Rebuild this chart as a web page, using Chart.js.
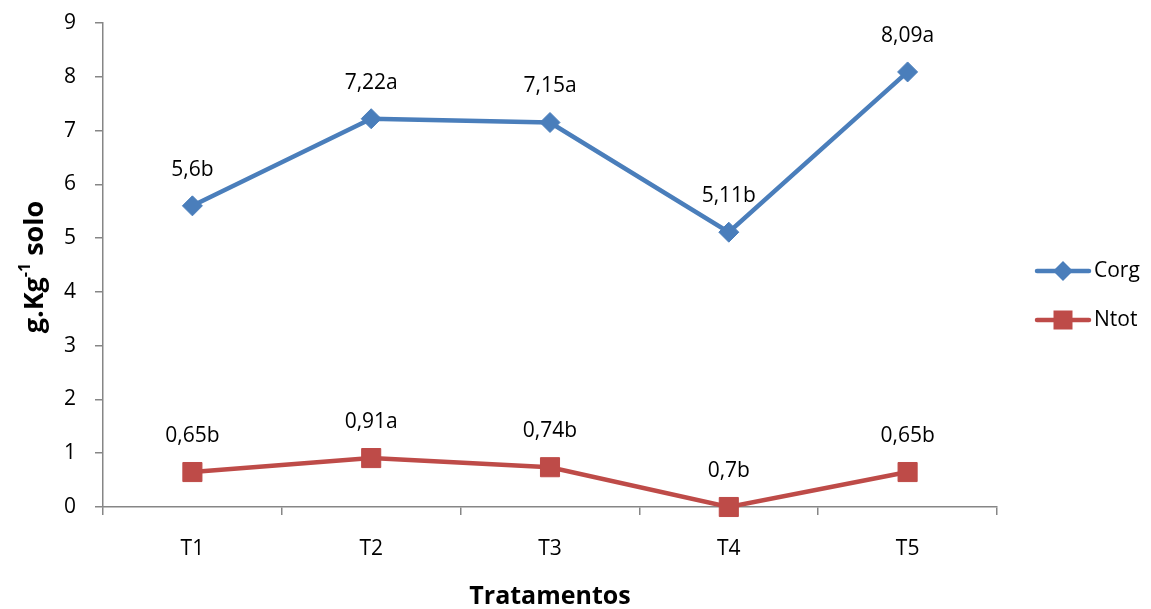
<!DOCTYPE html>
<html>
<head>
<meta charset="utf-8">
<script src="https://cdn.jsdelivr.net/npm/chart.js@4.4.1/dist/chart.umd.min.js"></script>
<style>
  html, body { margin: 0; padding: 0; background: #ffffff; }
  #wrap { width: 1151px; height: 609px; }
</style>
</head>
<body>
<div id="wrap"><canvas id="c" width="1151" height="609"></canvas></div>
<script>
const categories = ['T1', 'T2', 'T3', 'T4', 'T5'];
const corgValues = [5.6, 7.22, 7.15, 5.11, 8.09];
const ntotValues = [0.65, 0.91, 0.74, 0, 0.65];
const corgLabels = ['5,6b', '7,22a', '7,15a', '5,11b', '8,09a'];
const ntotLabels = ['0,65b', '0,91a', '0,74b', '0,7b', '0,65b'];
const seriesNames = ['Corg', 'Ntot'];
const xTitle = 'Tratamentos';
const yTitleParts = ['g.Kg', '-1', ' solo'];

const FONT = "'Open Sans', 'DejaVu Sans', sans-serif";
const BLUE = '#4A7EBB';
const RED = '#BE4B48';
const AXIS = '#868686';

const pointLabels = [corgLabels, ntotLabels];

const dataLabelPlugin = {
  id: 'dataLabels',
  afterDatasetsDraw(chart) {
    const ctx = chart.ctx;
    ctx.save();
    ctx.font = '21px ' + FONT;
    ctx.fillStyle = '#000';
    ctx.textAlign = 'center';
    ctx.textBaseline = 'middle';
    chart.data.datasets.forEach((ds, i) => {
      const meta = chart.getDatasetMeta(i);
      meta.data.forEach((el, j) => {
        ctx.fillText(pointLabels[i][j], el.x, el.y - 36);
      });
    });
    ctx.restore();
  }
};

const yTitlePlugin = {
  id: 'yTitle',
  afterDraw(chart) {
    const ctx = chart.ctx;
    const ca = chart.chartArea;
    const cy = (ca.top + ca.bottom) / 2 + 2;
    ctx.save();
    ctx.translate(35, cy);
    ctx.rotate(-Math.PI / 2);
    ctx.fillStyle = '#000';
    ctx.textBaseline = 'middle';
    ctx.textAlign = 'left';
    const big = 'bold 27px ' + FONT;
    const small = 'bold 16px ' + FONT;
    ctx.font = big; const w0 = ctx.measureText(yTitleParts[0]).width;
    ctx.font = small; const w1 = ctx.measureText(yTitleParts[1]).width;
    ctx.font = big; const w2 = ctx.measureText(yTitleParts[2]).width;
    let x = -(w0 + w1 + w2) / 2;
    ctx.font = big; ctx.fillText(yTitleParts[0], x, 0); x += w0;
    ctx.font = small; ctx.fillText(yTitleParts[1], x, -10); x += w1;
    ctx.font = big; ctx.fillText(yTitleParts[2], x, 0);
    ctx.restore();
  }
};

const legendPlugin = {
  id: 'customLegend',
  afterDraw(chart) {
    const ctx = chart.ctx;
    ctx.save();
    chart.data.datasets.forEach((ds, i) => {
      const y = 271 + i * 49;
      ctx.strokeStyle = ds.borderColor;
      ctx.lineWidth = 4.5;
      ctx.lineCap = 'round';
      ctx.beginPath();
      ctx.moveTo(1037, y);
      ctx.lineTo(1089, y);
      ctx.stroke();
      ctx.fillStyle = ds.pointBackgroundColor;
      ctx.beginPath();
      if (ds.pointStyle === 'rectRot') {
        const r = 10;
        ctx.moveTo(1063, y - r); ctx.lineTo(1063 + r, y); ctx.lineTo(1063, y + r); ctx.lineTo(1063 - r, y);
      } else {
        const h = 9.5;
        ctx.rect(1063 - h, y - h, 2 * h, 2 * h);
      }
      ctx.closePath();
      ctx.fill();
      ctx.fillStyle = '#000';
      ctx.font = '21px ' + FONT;
      ctx.textAlign = 'left';
      ctx.textBaseline = 'middle';
      ctx.fillText(ds.label, 1094, y);
    });
    ctx.restore();
  }
};

new Chart(document.getElementById('c'), {
  type: 'line',
  data: {
    labels: categories,
    datasets: [
      {
        label: seriesNames[0],
        data: corgValues,
        borderColor: BLUE,
        backgroundColor: BLUE,
        pointBackgroundColor: BLUE,
        pointBorderColor: BLUE,
        borderWidth: 4.5,
        pointStyle: 'rectRot',
        pointRadius: 10,
        pointHoverRadius: 10,
        pointBorderWidth: 1,
        tension: 0,
        clip: false
      },
      {
        label: seriesNames[1],
        data: ntotValues,
        borderColor: RED,
        backgroundColor: RED,
        pointBackgroundColor: RED,
        pointBorderColor: RED,
        borderWidth: 4.5,
        pointStyle: 'rect',
        pointRadius: 13.5,
        pointHoverRadius: 13.5,
        pointBorderWidth: 1,
        tension: 0,
        clip: false
      }
    ]
  },
  options: {
    responsive: false,
    animation: false,
    devicePixelRatio: 1,
    layout: { padding: { left: 0, right: 154, top: 23, bottom: 0 } },
    plugins: {
      legend: { display: false },
      tooltip: { enabled: false }
    },
    scales: {
      x: {
        offset: true,
        grid: {
          offset: true,
          display: true,
          drawOnChartArea: false,
          drawTicks: true,
          tickLength: 8,
          color: AXIS,
          lineWidth: 1.5
        },
        border: { display: true, color: AXIS, width: 1.5 },
        ticks: {
          color: '#000',
          font: { family: FONT, size: 21 },
          padding: 21
        },
        title: {
          display: true,
          text: xTitle,
          color: '#000',
          font: { family: FONT, size: 25, weight: 'bold', lineHeight: 1.0 },
          padding: { top: 0, bottom: 0 }
        },
        afterFit(scale) {
          scale.height = 102;
          scale.paddingLeft = 0; scale.paddingRight = 0;
        }
      },
      y: {
        min: 0,
        max: 9,
        ticks: {
          stepSize: 1,
          color: '#000',
          font: { family: FONT, size: 21 },
          padding: 19
        },
        grid: {
          display: true,
          drawOnChartArea: false,
          drawTicks: true,
          tickLength: 8,
          color: AXIS,
          lineWidth: 1.5
        },
        border: { display: true, color: AXIS, width: 1.5 },
        afterFit(scale) {
          scale.width = 103;
          scale.paddingTop = 0; scale.paddingBottom = 0;
        }
      }
    }
  },
  plugins: [dataLabelPlugin, yTitlePlugin, legendPlugin]
});
</script>
</body>
</html>
